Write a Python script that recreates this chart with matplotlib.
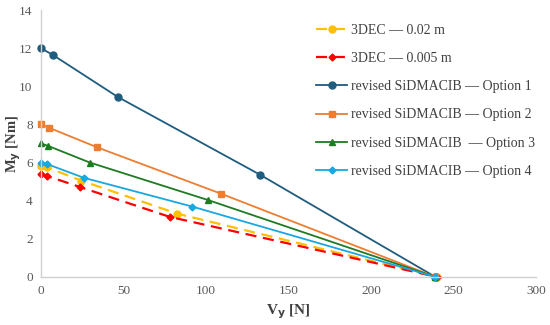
import matplotlib
matplotlib.use("Agg")
import matplotlib.pyplot as plt

# Data
dec002_x = [0, 3.5, 24.5, 82.5, 240]
dec002_y = [5.82, 5.75, 5.05, 3.32, 0]
dec0005_x = [0, 3.5, 23.5, 78, 240]
dec0005_y = [5.38, 5.3, 4.72, 3.15, 0]
opt1_x = [0, 7.3, 46.6, 133, 239]
opt1_y = [12.0, 11.64, 9.44, 5.35, 0]
opt2_x = [0, 4.8, 34, 109, 239]
opt2_y = [8.0, 7.83, 6.8, 4.37, 0]
opt3_x = [0, 4.4, 29.6, 101, 239]
opt3_y = [7.0, 6.87, 6.0, 4.04, 0]
opt4_x = [0, 3.4, 26, 91.7, 239]
opt4_y = [6.0, 5.93, 5.2, 3.69, 0]

labels = ["3DEC \u2014 0.02 m", "3DEC \u2014 0.005 m",
          "revised SiDMACIB \u2014 Option 1", "revised SiDMACIB \u2014 Option 2",
          "revised SiDMACIB  \u2014 Option 3", "revised SiDMACIB \u2014 Option 4"]
xticks = [0, 50, 100, 150, 200, 250, 300]
yticks = [0, 2, 4, 6, 8, 10, 12, 14]

plt.rcParams['font.family'] = ['Liberation Serif', 'DejaVu Serif']

fig = plt.figure(figsize=(5.5, 3.25), dpi=100)
ax = fig.add_axes([0.0745, 0.148, 0.9, 0.821])

kw = dict(clip_on=False)
ax.plot(dec002_x, dec002_y, color='#FFC000', ls=(0, (5, 3)), lw=1.6, marker='o', ms=5, label=labels[0], **kw)
ax.plot(dec0005_x, dec0005_y, color='#FF0000', ls=(0, (5, 3)), lw=1.6, marker='D', ms=3.5, label=labels[1], **kw)
ax.plot(opt1_x, opt1_y, color='#1F5C7E', lw=1.3, marker='o', ms=5, label=labels[2], **kw)
ax.plot(opt2_x, opt2_y, color='#ED7D31', lw=1.3, marker='s', ms=4.5, label=labels[3], **kw)
ax.plot(opt3_x, opt3_y, color='#1E7B22', lw=1.3, marker='^', ms=5, label=labels[4], **kw)
ax.plot(opt4_x, opt4_y, color='#18A7E0', lw=1.3, marker='D', ms=3.5, label=labels[5], **kw)

ax.set_xlim(0, 300)
ax.set_ylim(0, 14)
ax.set_xticks(xticks)
ax.set_yticks(yticks)
ax.tick_params(length=0, labelsize=9.5, colors='#595959', pad=6)
for s in ['top', 'right']:
    ax.spines[s].set_visible(False)
for s in ['left', 'bottom']:
    ax.spines[s].set_color('#D0D0D0')
    ax.spines[s].set_linewidth(1.0)

ax.set_xlabel(r'V$_\mathbf{y}$ [N]', fontsize=11, fontweight='bold', color='#404040', labelpad=4)
ax.set_ylabel(r'M$_\mathbf{y}$ [Nm]', fontsize=10.5, fontweight='bold', color='#404040')
ax.yaxis.set_label_coords(-0.036, 0.5)

leg = ax.legend(loc='upper left', bbox_to_anchor=(0.545, 0.97), frameon=False,
                fontsize=10, labelcolor='#404040', handlelength=2.2, handletextpad=0.3,
                labelspacing=1.1, borderaxespad=0)

fig.savefig('out.png', dpi=100)
